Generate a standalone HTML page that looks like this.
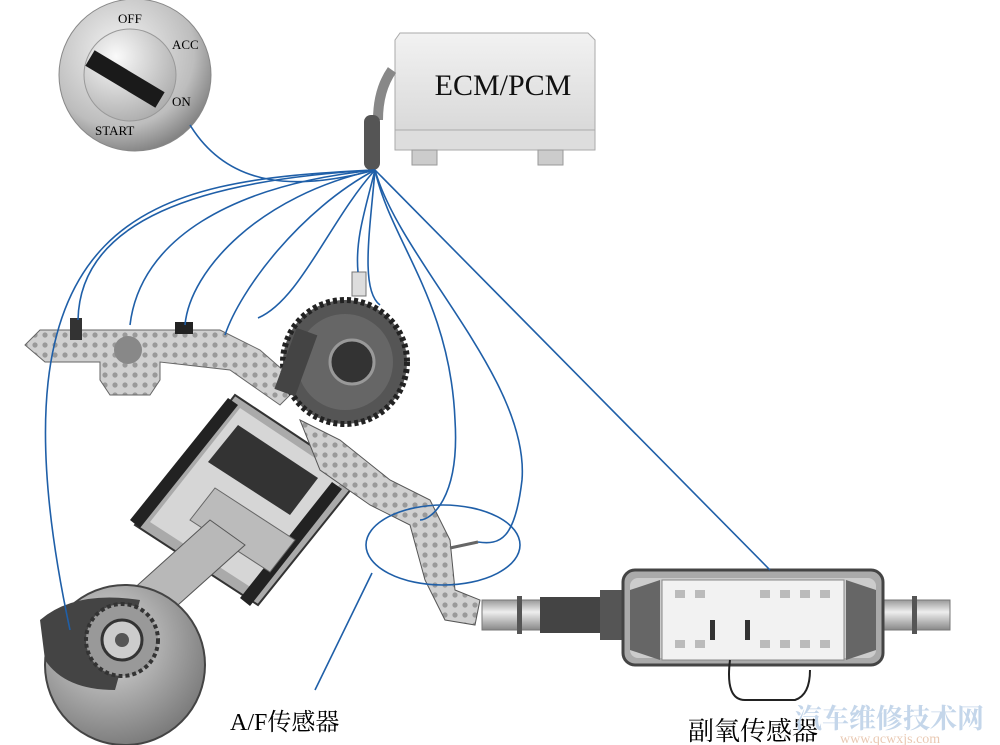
<!DOCTYPE html>
<html><head><meta charset="utf-8"><style>
body{margin:0;background:#fff}
svg{display:block}
text{font-family:"Liberation Serif","Noto Serif CJK SC",serif}
</style></head><body>
<svg width="1000" height="745" viewBox="0 0 1000 745" xmlns="http://www.w3.org/2000/svg">
<defs>
<radialGradient id="key" cx="40%" cy="35%" r="70%"><stop offset="0" stop-color="#f4f4f4"/><stop offset="0.7" stop-color="#bdbdbd"/><stop offset="1" stop-color="#7a7a7a"/></radialGradient>
<radialGradient id="keyin" cx="35%" cy="30%" r="80%"><stop offset="0" stop-color="#fafafa"/><stop offset="1" stop-color="#a8a8a8"/></radialGradient>
<linearGradient id="ecm" x1="0" y1="0" x2="0" y2="1"><stop offset="0" stop-color="#f2f2f2"/><stop offset="1" stop-color="#d4d4d4"/></linearGradient>
<linearGradient id="pipe" x1="0" y1="0" x2="0" y2="1"><stop offset="0" stop-color="#999"/><stop offset="0.4" stop-color="#eee"/><stop offset="1" stop-color="#888"/></linearGradient>
<radialGradient id="crank" cx="40%" cy="35%" r="70%"><stop offset="0" stop-color="#ddd"/><stop offset="1" stop-color="#777"/></radialGradient>
<pattern id="mesh" width="10" height="10" patternUnits="userSpaceOnUse"><rect width="10" height="10" fill="#d0d0d0"/><circle cx="5" cy="5" r="2.6" fill="#999"/></pattern>
</defs>

<!-- key switch -->
<circle cx="135" cy="75" r="76" fill="url(#key)" stroke="#888"/>
<circle cx="130" cy="75" r="46" fill="url(#keyin)" stroke="#999"/>
<line x1="90" y1="58" x2="160" y2="100" stroke="#1a1a1a" stroke-width="18"/>
<text x="118" y="23" font-size="13">OFF</text>
<text x="172" y="49" font-size="13">ACC</text>
<text x="172" y="106" font-size="13">ON</text>
<text x="95" y="135" font-size="13">START</text>

<!-- ECM -->
<path d="M395 40 L400 33 L588 33 L595 40 L595 150 L395 150 Z" fill="url(#ecm)" stroke="#aaa"/>
<rect x="395" y="130" width="200" height="20" fill="#ddd" stroke="#aaa"/>
<rect x="412" y="150" width="25" height="15" fill="#ccc" stroke="#999"/>
<rect x="538" y="150" width="25" height="15" fill="#ccc" stroke="#999"/>
<text x="503" y="95" font-size="30" text-anchor="middle" fill="#111">ECM/PCM</text>
<path d="M392 70 Q378 90 378 120" stroke="#888" stroke-width="10" fill="none"/>
<rect x="364" y="115" width="16" height="55" rx="7" fill="#555"/>

<!-- intake manifold -->
<path d="M25 345 L40 330 L220 330 L260 350 L300 385 L280 405 L230 370 L160 362 L160 380 L150 395 L110 395 L100 380 L100 362 L45 362 Z" fill="url(#mesh)" stroke="#666"/>
<circle cx="128" cy="350" r="14" fill="#888"/>
<rect x="70" y="318" width="12" height="22" fill="#333"/>
<rect x="175" y="322" width="18" height="12" fill="#222"/>

<!-- cylinder block (axis upper-right to lower-left) -->
<path d="M135 525 L235 395 L360 478 L258 605 Z" fill="#aaa" stroke="#333" stroke-width="2"/>
<path d="M150 522 L240 408 L345 478 L255 590 Z" fill="#d6d6d6"/>
<path d="M130 520 L228 398 L238 405 L140 528 Z" fill="#222"/>
<path d="M240 598 L332 482 L342 489 L250 606 Z" fill="#222"/>
<path d="M208 462 L238 425 L318 478 L290 515 Z" fill="#333"/>
<path d="M190 520 L215 488 L295 540 L270 572 Z" fill="#bbb" stroke="#666"/>
<!-- connecting rod -->
<path d="M210 520 L245 545 L150 630 L110 610 Z" fill="#b8b8b8" stroke="#555"/>

<!-- crank -->
<circle cx="125" cy="665" r="80" fill="url(#crank)" stroke="#444" stroke-width="2"/>
<path d="M40 620 Q75 590 140 600 L115 690 Q65 690 45 660 Z" fill="#444"/>
<circle cx="122" cy="640" r="36" fill="#999" stroke="#333" stroke-width="4" stroke-dasharray="4 3"/>
<circle cx="122" cy="640" r="20" fill="#ccc" stroke="#333" stroke-width="3"/>
<circle cx="122" cy="640" r="7" fill="#555"/>

<!-- cam gear -->
<circle cx="345" cy="362" r="62" fill="#555" stroke="#222" stroke-width="6" stroke-dasharray="4 3"/>
<circle cx="345" cy="362" r="48" fill="#666"/>
<circle cx="352" cy="362" r="22" fill="#333" stroke="#999" stroke-width="3"/>
<rect x="285" y="330" width="22" height="65" fill="#444" transform="rotate(20 297 362)"/>

<!-- exhaust manifold -->
<path d="M300 420 L340 440 L390 480 L430 500 L450 540 L455 590 L480 600 L475 625 L445 620 L425 580 L410 525 L370 505 L320 470 Z" fill="url(#mesh)" stroke="#555"/>
<path d="M450 548 L478 542" stroke="#666" stroke-width="3"/>
<rect x="352" y="272" width="14" height="24" fill="#ddd" stroke="#777"/>

<!-- exhaust pipes & converter -->
<rect x="482" y="600" width="60" height="30" fill="url(#pipe)" stroke="#777"/>
<rect x="517" y="596" width="5" height="38" fill="#555"/>
<rect x="540" y="597" width="65" height="36" fill="#444"/>
<rect x="600" y="590" width="25" height="50" fill="#555"/>
<rect x="882" y="600" width="68" height="30" fill="url(#pipe)" stroke="#777"/>
<rect x="912" y="596" width="5" height="38" fill="#555"/>
<rect x="623" y="570" width="260" height="95" rx="12" fill="#aaa" stroke="#444" stroke-width="3"/>
<rect x="630" y="578" width="246" height="80" rx="8" fill="#ccc"/>
<path d="M630 590 L660 580 L660 660 L630 650 Z M876 590 L846 580 L846 660 L876 650 Z" fill="#666"/>
<rect x="662" y="580" width="182" height="80" fill="#f2f2f2" stroke="#888"/>
<g fill="#bbb"><rect x="675" y="590" width="10" height="8"/><rect x="695" y="590" width="10" height="8"/><rect x="760" y="590" width="10" height="8"/><rect x="780" y="590" width="10" height="8"/><rect x="800" y="590" width="10" height="8"/><rect x="820" y="590" width="10" height="8"/>
<rect x="675" y="640" width="10" height="8"/><rect x="695" y="640" width="10" height="8"/><rect x="760" y="640" width="10" height="8"/><rect x="780" y="640" width="10" height="8"/><rect x="800" y="640" width="10" height="8"/><rect x="820" y="640" width="10" height="8"/></g>
<rect x="710" y="620" width="5" height="20" fill="#333"/><rect x="745" y="620" width="5" height="20" fill="#333"/>
<path d="M730 660 Q725 700 745 700 L795 700 Q810 695 810 670" stroke="#222" stroke-width="2" fill="none"/>

<!-- wires -->
<g stroke="#1f5fa8" stroke-width="1.6" fill="none">
<path d="M375 170 C300 190 230 190 190 125"/>
<path d="M375 170 C150 180 -20 210 70 630"/>
<path d="M375 170 C200 180 80 220 78 320"/>
<path d="M375 170 C230 185 140 240 130 325"/>
<path d="M375 170 C260 195 190 270 185 325"/>
<path d="M375 170 C300 210 240 290 225 335"/>
<path d="M375 170 C330 220 300 300 258 318"/>
<path d="M375 170 C365 210 355 240 358 272"/>
<path d="M375 170 C370 230 360 290 380 305"/>
<path d="M375 170 C390 240 450 300 455 420 C460 500 430 520 420 520"/>
<path d="M375 170 C400 260 530 380 522 480 C515 540 500 545 478 542"/>
<path d="M375 170 L770 570"/>
<ellipse cx="443" cy="545" rx="77" ry="40"/>
<path d="M372 573 L315 690"/>
</g>

<text x="230" y="730" font-size="24">A/F传感器</text>
<text x="688" y="740" font-size="26">副氧传感器</text>
<text x="795" y="728" font-size="27" fill="#c4d6ea" font-weight="bold" font-family="'Noto Sans CJK SC',sans-serif">汽车维修技术网</text>
<text x="840" y="743" font-size="14" fill="#e9c9b3" font-family="'Liberation Sans',sans-serif">www.qcwxjs.com</text>
</svg>
</body></html>
